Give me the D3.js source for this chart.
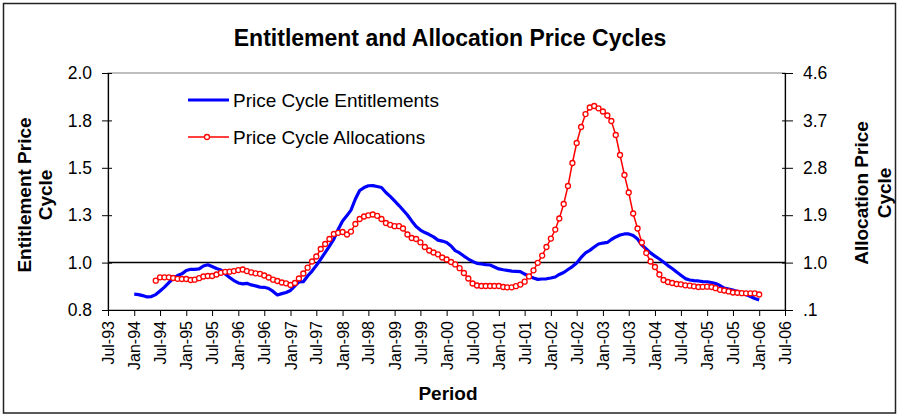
<!DOCTYPE html>
<html>
<head>
<meta charset="utf-8">
<script src="https://cdn.jsdelivr.net/npm/d3@7"></script>
<style>
body { margin: 0; background: #fff; }
text { font-family: Arial, "Liberation Sans", sans-serif; fill: #000; }
</style>
</head>
<body>
<div id="chart"></div>
<script>
// x tick labels (every 6 months)
var xTickLabels = ["Jul-93", "Jan-94", "Jul-94", "Jan-95", "Jul-95", "Jan-96", "Jul-96", "Jan-97", "Jul-97",
  "Jan-98", "Jul-98", "Jan-99", "Jul-99", "Jan-00", "Jul-00", "Jan-01", "Jul-01", "Jan-02", "Jul-02",
  "Jan-03", "Jul-03", "Jan-04", "Jul-04", "Jan-05", "Jul-05", "Jan-06", "Jul-06"]

// left axis: 0.8 to 2.0 in 5 steps, labels rounded to 1 decimal
var leftTicks = [0.8, 1.04, 1.28, 1.52, 1.76, 2.0]
// right axis
var rightTicks = [0.1, 1.0, 1.9, 2.8, 3.7, 4.6]
var rightTickLabels = [".1", "1.0", "1.9", "2.8", "3.7", "4.6"]

// monthly series, Price Cycle Entitlements (left axis) from Jan-94
var entitlementStart = "Jan-94"
var entitlements = [
  0.880, 0.878, 0.873, 0.866, 0.868, 0.878, 0.896, 0.916, 0.939, 0.959,
  0.975, 0.983, 1.000, 1.006, 1.006, 1.008, 1.023, 1.029, 1.020, 1.010,
  1.003, 0.982, 0.965, 0.949, 0.937, 0.932, 0.935, 0.927, 0.922, 0.916,
  0.915, 0.909, 0.894, 0.876, 0.883, 0.889, 0.899, 0.922, 0.942, 0.943,
  0.972, 0.997, 1.025, 1.058, 1.091, 1.124, 1.159, 1.208, 1.251, 1.278,
  1.306, 1.362, 1.405, 1.420, 1.429, 1.430, 1.425, 1.420, 1.395, 1.375,
  1.352, 1.329, 1.306, 1.281, 1.251, 1.223, 1.205, 1.192, 1.182, 1.170,
  1.154, 1.149, 1.142, 1.124, 1.101, 1.089, 1.073, 1.058, 1.046, 1.036,
  1.033, 1.030, 1.028, 1.018, 1.008, 1.004, 1.001, 0.997, 0.996, 0.994,
  0.982, 0.971, 0.962, 0.955, 0.957, 0.958, 0.962, 0.967, 0.980, 0.990,
  1.005, 1.020, 1.038, 1.066, 1.089, 1.102, 1.119, 1.134, 1.139, 1.142,
  1.157, 1.170, 1.180, 1.185, 1.185, 1.177, 1.159, 1.129, 1.109, 1.089,
  1.073, 1.058, 1.043, 1.025, 1.010, 0.992, 0.976, 0.959, 0.952, 0.949,
  0.947, 0.944, 0.943, 0.939, 0.934, 0.924, 0.911, 0.906, 0.901, 0.894,
  0.886, 0.878, 0.868, 0.858, 0.851
]

// monthly series, Price Cycle Allocations (right axis) from Jun-94
var allocationStart = "Jun-94"
var allocations = [
  0.656, 0.721, 0.721, 0.721, 0.708, 0.692, 0.689, 0.689, 0.670, 0.675,
  0.704, 0.736, 0.746, 0.746, 0.774, 0.806, 0.825, 0.827, 0.840, 0.859,
  0.869, 0.840, 0.814, 0.797, 0.787, 0.755, 0.717, 0.675, 0.651, 0.622,
  0.607, 0.575, 0.613, 0.698, 0.793, 0.903, 1.021, 1.116, 1.258, 1.353,
  1.448, 1.543, 1.566, 1.581, 1.534, 1.590, 1.733, 1.828, 1.875, 1.898,
  1.913, 1.889, 1.828, 1.752, 1.718, 1.691, 1.691, 1.647, 1.534, 1.467,
  1.448, 1.385, 1.296, 1.230, 1.192, 1.158, 1.097, 1.059, 1.011, 0.966,
  0.894, 0.803, 0.698, 0.603, 0.565, 0.556, 0.556, 0.556, 0.556, 0.556,
  0.537, 0.531, 0.531, 0.552, 0.582, 0.637, 0.738, 0.854, 0.996, 1.133,
  1.296, 1.456, 1.628, 1.837, 2.113, 2.454, 2.891, 3.271, 3.575, 3.821,
  3.945, 3.973, 3.930, 3.869, 3.793, 3.689, 3.423, 3.043, 2.663, 2.331,
  1.932, 1.647, 1.382, 1.182, 1.021, 0.916, 0.774, 0.670, 0.632, 0.613,
  0.594, 0.588, 0.569, 0.561, 0.550, 0.537, 0.540, 0.542, 0.537, 0.514,
  0.484, 0.470, 0.453, 0.432, 0.428, 0.419, 0.417, 0.417, 0.417, 0.394
]

// reference line drawn against the right axis
var referenceLevel = 1.0

var width = 899, height = 415
var plot = {left: 108, right: 785, top: 73, bottom: 310}

var parse = d3.timeParse("%b-%y")

var svg = d3.select("#chart")
  .append("svg")
  .attr("width", width)
  .attr("height", height)

// outer chart border
svg.append("rect")
  .attr("x", 3.5).attr("y", 3.5)
  .attr("width", 892).attr("height", 409.5)
  .attr("fill", "#fff")
  .attr("stroke", "#222")
  .attr("stroke-width", 1.5)

var x = d3.scaleTime()
  .domain([parse(xTickLabels[0]), parse(xTickLabels[xTickLabels.length - 1])])
  .range([plot.left, plot.right])
var yLeft = d3.scaleLinear().domain([0.8, 2.0]).range([plot.bottom, plot.top])
var yRight = d3.scaleLinear().domain([0.1, 4.6]).range([plot.bottom, plot.top])

// plot area border
svg.append("rect")
  .attr("x", plot.left).attr("y", plot.top)
  .attr("width", plot.right - plot.left).attr("height", plot.bottom - plot.top)
  .attr("fill", "none")
  .attr("stroke", "#808080")
  .attr("stroke-width", 1)

// build data rows
function toRows(start, values) {
  var d0 = parse(start)
  return values.map(function(v, i) { return {date: d3.timeMonth.offset(d0, i), value: v} })
}
var entRows = toRows(entitlementStart, entitlements)
var allocRows = toRows(allocationStart, allocations)

// reference line at 1.0
svg.append("line")
  .attr("x1", plot.left).attr("x2", plot.right)
  .attr("y1", yRight(referenceLevel)).attr("y2", yRight(referenceLevel))
  .attr("stroke", "#000")
  .attr("stroke-width", 1.5)

// entitlements line
svg.append("path")
  .datum(entRows)
  .attr("fill", "none")
  .attr("stroke", "#0000ff")
  .attr("stroke-width", 3.2)
  .attr("stroke-linejoin", "round")
  .attr("d", d3.line().x(function(d) { return x(d.date) }).y(function(d) { return yLeft(d.value) }))

// allocations line + markers
svg.append("path")
  .datum(allocRows)
  .attr("fill", "none")
  .attr("stroke", "#ff0000")
  .attr("stroke-width", 1.5)
  .attr("d", d3.line().x(function(d) { return x(d.date) }).y(function(d) { return yRight(d.value) }))

svg.append("g")
  .selectAll("circle")
  .data(allocRows)
  .enter()
  .append("circle")
    .attr("cx", function(d) { return x(d.date) })
    .attr("cy", function(d) { return yRight(d.value) })
    .attr("r", 2.5)
    .attr("fill", "#fff")
    .attr("stroke", "#ff0000")
    .attr("stroke-width", 1.3)

// left axis
var gl = svg.append("g")
  .attr("transform", "translate(" + plot.left + ",0)")
  .call(d3.axisLeft(yLeft).tickValues(leftTicks).tickFormat(d3.format(".1f")).tickSizeInner(6).tickSizeOuter(0).tickPadding(10))
gl.selectAll(".tick line").attr("x1", 4)
gl.selectAll("text").style("font-size", "17.5px")

// right axis
var gr = svg.append("g")
  .attr("transform", "translate(" + plot.right + ",0)")
  .call(d3.axisRight(yRight).tickValues(rightTicks).tickFormat(function(d, i) { return rightTickLabels[i] }).tickSizeInner(8).tickSizeOuter(0).tickPadding(10))
gr.selectAll(".tick line").attr("x1", -3)
gr.selectAll("text").style("font-size", "17.5px")

// x axis
var gx = svg.append("g")
  .attr("transform", "translate(0," + plot.bottom + ")")
  .call(d3.axisBottom(x).tickValues(xTickLabels.map(parse)).tickFormat(function(d, i) { return xTickLabels[i] }).tickSizeInner(6).tickSizeOuter(0))
gx.selectAll("text")
  .style("font-size", "16px")
  .attr("transform", "rotate(-90)")
  .attr("text-anchor", "end")
  .attr("x", -11)
  .attr("y", 0)
  .attr("dy", "0.35em")

svg.selectAll(".domain").attr("stroke", "#000").attr("stroke-width", 1.2)
svg.selectAll(".tick line").attr("stroke", "#000")

// title
svg.append("text")
  .attr("x", 450).attr("y", 46)
  .attr("text-anchor", "middle")
  .style("font-size", "23px").style("font-weight", "bold")
  .text("Entitlement and Allocation Price Cycles")

// axis titles
function vTitle(cx, cy, label) {
  svg.append("text")
    .attr("transform", "translate(" + cx + "," + cy + ") rotate(-90)")
    .attr("text-anchor", "middle")
    .attr("dy", "0.35em")
    .style("font-size", "19px").style("font-weight", "bold")
    .text(label)
}
vTitle(24, 195, "Entitlement Price")
vTitle(45, 195, "Cycle")
vTitle(861, 193, "Allocation Price")
vTitle(884, 193, "Cycle")

svg.append("text")
  .attr("x", 448).attr("y", 400)
  .attr("text-anchor", "middle")
  .style("font-size", "19px").style("font-weight", "bold")
  .text("Period")

// legend
var legend = svg.append("g")
legend.append("line")
  .attr("x1", 188).attr("x2", 229).attr("y1", 100).attr("y2", 100)
  .attr("stroke", "#0000ff").attr("stroke-width", 3.2)
legend.append("text")
  .attr("x", 233).attr("y", 100).attr("dy", "0.35em")
  .style("font-size", "19px")
  .text("Price Cycle Entitlements")
legend.append("line")
  .attr("x1", 188).attr("x2", 229).attr("y1", 137).attr("y2", 137)
  .attr("stroke", "#ff0000").attr("stroke-width", 1.5)
legend.append("circle")
  .attr("cx", 207).attr("cy", 137).attr("r", 2.5)
  .attr("fill", "#fff").attr("stroke", "#ff0000").attr("stroke-width", 1.3)
legend.append("text")
  .attr("x", 233).attr("y", 137).attr("dy", "0.35em")
  .style("font-size", "19px")
  .text("Price Cycle Allocations")
</script>
</body>
</html>
